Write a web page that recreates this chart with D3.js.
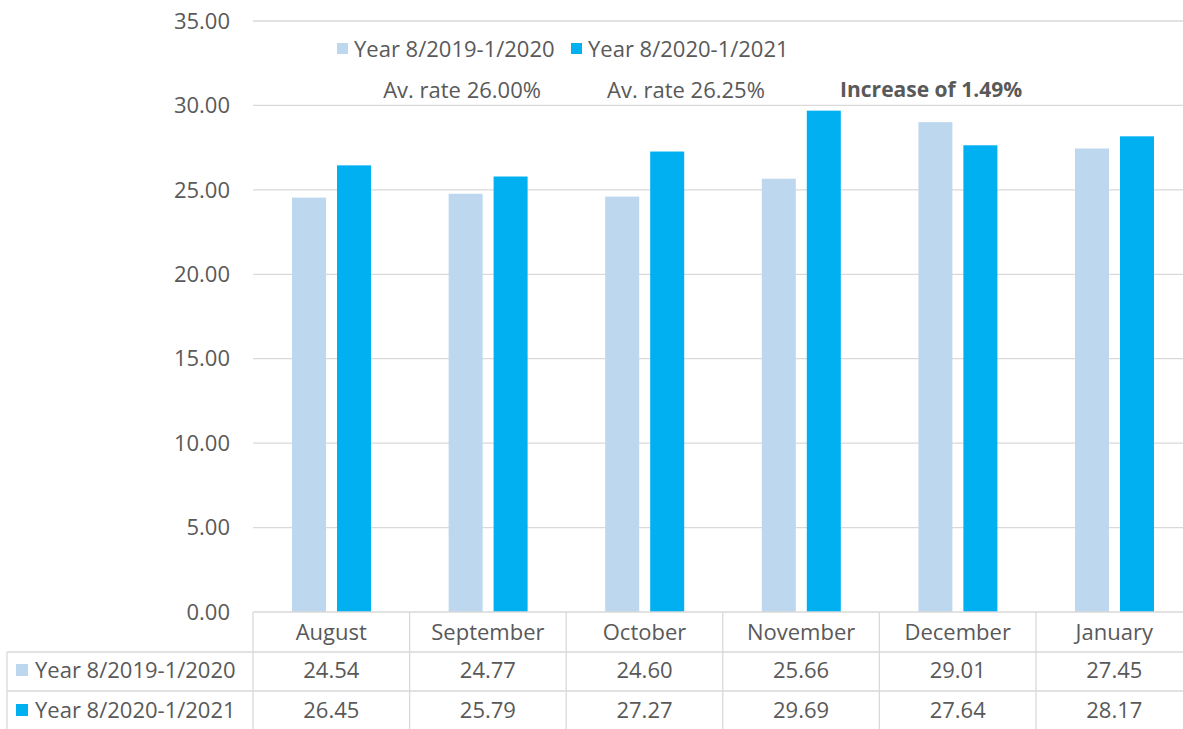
<!DOCTYPE html>
<html>
<head>
<meta charset="utf-8">
<script src="https://cdn.jsdelivr.net/npm/d3@7"></script>
<style>
  body { margin: 0; background: #fff; }
  text { font-family: "Open Sans", sans-serif; fill: #595959; }
</style>
</head>
<body>
<svg></svg>
<script>
// Chart data.
var months = ["August", "September", "October", "November", "December", "January"];
var seriesNames = ["Year 8/2019-1/2020", "Year 8/2020-1/2021"];
var values2019 = [24.54, 24.77, 24.60, 25.66, 29.01, 27.45];
var values2020 = [26.45, 25.79, 27.27, 29.69, 27.64, 28.17];
var yTicks = [0, 5, 10, 15, 20, 25, 30, 35];
var notes = [
  { month: "September", text: "Av. rate 26.00%", bold: false, at: 0.335 },
  { month: "October", text: "Av. rate 26.25%", bold: false, at: 0.765 },
  { month: "December", text: "Increase of 1.49%", bold: true, at: 0.33 }
];

var width = 1183,
    height = 729;

var colors = ["#BDD7EE", "#00B0F0"];
var series = [values2019, values2020];

var svg = d3.select("svg")
    .attr("width", width)
    .attr("height", height);

var plotLeft = 253,
    plotRight = 1192.6;

var x0 = d3.scaleBand()
    .domain(months)
    .range([plotLeft, plotRight]);

var x1 = d3.scaleBand()
    .domain(d3.range(series.length))
    .range([39, 118])
    .paddingInner(0.244);

var y = d3.scaleLinear()
    .domain([0, 35])
    .range([612, 21]);

// gridlines
svg.append("g")
  .selectAll("line")
    .data(yTicks.slice(1))
  .enter().append("line")
    .attr("x1", plotLeft)
    .attr("x2", plotRight)
    .attr("y1", function(d) { return y(d); })
    .attr("y2", function(d) { return y(d); })
    .attr("stroke", "#D9D9D9")
    .attr("stroke-width", 1.3);

// y tick labels
svg.append("g")
  .selectAll("text")
    .data(yTicks)
  .enter().append("text")
    .attr("x", 230)
    .attr("y", function(d) { return y(d); })
    .attr("dy", "0.35em")
    .attr("text-anchor", "end")
    .style("font-size", "22px")
    .text(function(d) { return d3.format(".2f")(d); });

// bars
svg.append("g")
  .selectAll("g")
    .data(months)
  .enter().append("g")
    .attr("transform", function(d) { return "translate(" + x0(d) + ",0)"; })
  .selectAll("rect")
    .data(function(d, i) { return series.map(function(s, k) { return { k: k, v: s[i] }; }); })
  .enter().append("rect")
    .attr("x", function(d) { return x1(d.k); })
    .attr("width", x1.bandwidth())
    .attr("y", function(d) { return y(d.v); })
    .attr("height", function(d) { return y(0) - y(d.v); })
    .attr("fill", function(d) { return colors[d.k]; });

// legend on top
var legend = svg.append("g");
var legendX = [337, 571];
seriesNames.forEach(function(name, k) {
  legend.append("rect")
    .attr("x", legendX[k]).attr("y", 43)
    .attr("width", 11).attr("height", 11)
    .attr("fill", colors[k]);
  legend.append("text")
    .attr("x", legendX[k] + 17).attr("y", 49)
    .attr("dy", "0.35em")
    .style("font-size", "22px")
    .text(name);
});

// annotations
svg.append("g")
  .selectAll("text")
    .data(notes)
  .enter().append("text")
    .attr("x", function(d) { return x0(d.month) + d.at * x0.bandwidth(); })
    .attr("y", 90)
    .attr("dy", "0.35em")
    .attr("text-anchor", "middle")
    .style("font-size", function(d) { return d.bold ? "21px" : "22px"; })
    .style("font-weight", function(d) { return d.bold ? "bold" : "normal"; })
    .text(function(d) { return d.text; });

// data table
var table = svg.append("g");
var rowLines = [652, 691];
var colEdges = months.map(function(m) { return x0(m); }).concat([plotRight]);

table.append("line")
    .attr("x1", plotLeft).attr("x2", plotRight)
    .attr("y1", y(0)).attr("y2", y(0))
    .attr("stroke", "#D9D9D9").attr("stroke-width", 1.3);

table.selectAll("line.row")
    .data(rowLines)
  .enter().append("line")
    .attr("class", "row")
    .attr("x1", 7).attr("x2", plotRight)
    .attr("y1", function(d) { return d; })
    .attr("y2", function(d) { return d; })
    .attr("stroke", "#D9D9D9").attr("stroke-width", 1.3);

table.selectAll("line.col")
    .data(colEdges)
  .enter().append("line")
    .attr("class", "col")
    .attr("x1", function(d) { return d; })
    .attr("x2", function(d) { return d; })
    .attr("y1", y(0)).attr("y2", height)
    .attr("stroke", "#D9D9D9").attr("stroke-width", 1.3);

table.append("line")
    .attr("x1", 7).attr("x2", 7)
    .attr("y1", rowLines[0]).attr("y2", height)
    .attr("stroke", "#D9D9D9").attr("stroke-width", 1.3);

// month labels
table.selectAll("text.month")
    .data(months)
  .enter().append("text")
    .attr("class", "month")
    .attr("x", function(d) { return x0(d) + x0.bandwidth() / 2; })
    .attr("y", 632)
    .attr("dy", "0.35em")
    .attr("text-anchor", "middle")
    .style("font-size", "22px")
    .text(function(d) { return d; });

var rowY = [670, 710];
series.forEach(function(s, k) {
  table.append("rect")
    .attr("x", 16).attr("y", rowY[k] - 6)
    .attr("width", 12).attr("height", 12)
    .attr("fill", colors[k]);
  table.append("text")
    .attr("x", 35).attr("y", rowY[k])
    .attr("dy", "0.35em")
    .style("font-size", "22px")
    .text(seriesNames[k]);
  table.selectAll("text.v" + k)
      .data(s)
    .enter().append("text")
      .attr("class", "v" + k)
      .attr("x", function(d, i) { return x0(months[i]) + x0.bandwidth() / 2; })
      .attr("y", rowY[k])
      .attr("dy", "0.35em")
      .attr("text-anchor", "middle")
      .style("font-size", "22px")
      .text(function(d) { return d3.format(".2f")(d); });
});
</script>
</body>
</html>
